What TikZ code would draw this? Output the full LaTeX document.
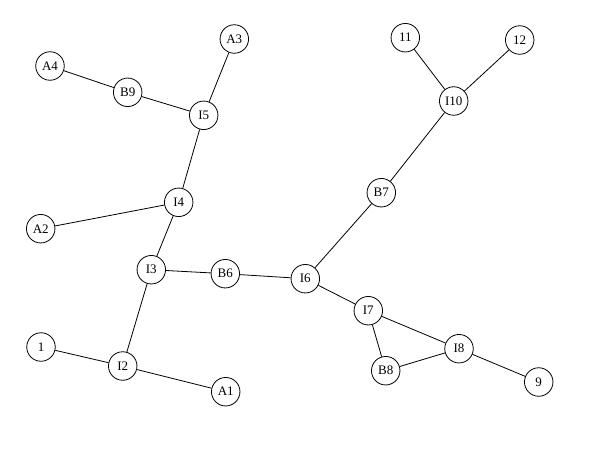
\documentclass[tikz,border=0pt]{standalone}
\usepackage{fontspec}
\setmainfont{Liberation Serif}
\begin{document}
\begin{tikzpicture}[x=1pt,y=-1pt,
  vert/.style={circle,draw,line width=0.8pt,minimum size=28.5pt,inner sep=0pt,font=\fontsize{13}{13}\selectfont},
  edge/.style={line width=0.8pt}]
\useasboundingbox (0,0) rectangle (615,450);
\node[vert] (A3) at (234.3,39) {A3};
\node[vert] (A4) at (50,66) {A4};
\node[vert] (B9) at (127.7,92.3) {B9};
\node[vert] (I5) at (203.7,115.3) {I5};
\node[vert] (I4) at (178.7,202.3) {I4};
\node[vert] (A2) at (40.7,228.7) {A2};
\node[vert] (n11) at (405.3,37.7) {11};
\node[vert] (n12) at (519.7,40) {12};
\node[vert] (I10) at (453.7,101) {I10};
\node[vert] (B7) at (381.3,192.7) {B7};
\node[vert] (I3) at (151.3,269.7) {I3};
\node[vert] (B6) at (225.3,273.7) {B6};
\node[vert] (n1) at (41,347) {1};
\node[vert] (I2) at (122.7,366) {I2};
\node[vert] (A1) at (225.7,391.7) {A1};
\node[vert] (I6) at (305.3,278.7) {I6};
\node[vert] (I7) at (368.3,310.7) {I7};
\node[vert] (I8) at (459,348.7) {I8};
\node[vert] (B8) at (385.7,370.7) {B8};
\node[vert] (n9) at (538.7,382) {9};
\draw[edge] (A4) -- (B9);
\draw[edge] (B9) -- (I5);
\draw[edge] (A3) -- (I5);
\draw[edge] (I5) -- (I4);
\draw[edge] (A2) -- (I4);
\draw[edge] (I4) -- (I3);
\draw[edge] (I3) -- (B6);
\draw[edge] (B6) -- (I6);
\draw[edge] (I3) -- (I2);
\draw[edge] (n1) -- (I2);
\draw[edge] (I2) -- (A1);
\draw[edge] (I6) -- (B7);
\draw[edge] (B7) -- (I10);
\draw[edge] (I10) -- (n11);
\draw[edge] (I10) -- (n12);
\draw[edge] (I6) -- (I7);
\draw[edge] (I7) -- (I8);
\draw[edge] (I7) -- (B8);
\draw[edge] (B8) -- (I8);
\draw[edge] (I8) -- (n9);
\end{tikzpicture}
\end{document}
